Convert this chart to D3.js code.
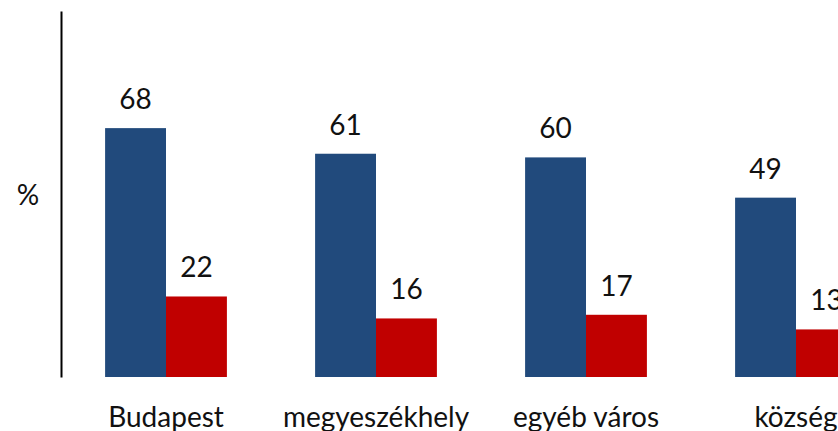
<!DOCTYPE html>
<html>
<head>
<meta charset="utf-8">
<script src="https://cdn.jsdelivr.net/npm/d3@7"></script>
<style>
  html, body { margin: 0; padding: 0; background: #fff; overflow: hidden; }
  svg { display: block; }
  text { font-family: Lato, "Open Sans", sans-serif; fill: #111; }
</style>
</head>
<body>
<svg id="chart" width="838" height="431"></svg>
<script>
// Settlement types and the two series shown for each
const categories = ["Budapest", "megyeszékhely", "egyéb város", "község"];
const seriesA = [68, 61, 60, 49];
const seriesB = [22, 16, 17, 13];
const seriesColors = ["#214a7c", "#c00000"];
const yDomain = [0, 100];

const svg = d3.select("#chart");
const plotLeft = 61, plotTop = 11, plotBottom = 377;
const step = 210;
const fontSize = 28;

const x = d3.scaleBand()
  .domain(categories)
  .range([plotLeft, plotLeft + step * categories.length])
  .paddingInner(0.42)
  .paddingOuter(0.21);

const inner = d3.scaleBand()
  .domain([0, 1])
  .range([0, x.bandwidth()]);

const y = d3.scaleLinear().domain(yDomain).range([plotBottom, plotTop]);

const rows = categories.map((c, i) => ({ c, vals: [seriesA[i], seriesB[i]] }));

const g = svg.selectAll("g.cat").data(rows).join("g")
  .attr("class", "cat")
  .attr("transform", d => `translate(${x(d.c)},0)`);

g.selectAll("rect").data(d => d.vals.map((v, k) => ({ v, k }))).join("rect")
  .attr("x", d => inner(d.k))
  .attr("y", d => y(d.v))
  .attr("width", inner.bandwidth())
  .attr("height", d => y(0) - y(d.v))
  .attr("fill", d => seriesColors[d.k]);

g.selectAll("text.val").data(d => d.vals.map((v, k) => ({ v, k }))).join("text")
  .attr("class", "val")
  .attr("x", d => inner(d.k) + inner.bandwidth() / 2)
  .attr("y", d => y(d.v) - 19)
  .attr("text-anchor", "middle")
  .attr("font-size", fontSize)
  .text(d => d.v);

// Vertical value axis, drawn as a plain line without ticks
const axis = d3.axisLeft(y).tickValues([]).tickSizeOuter(0);
svg.append("g")
  .attr("transform", `translate(${plotLeft},0)`)
  .call(axis)
  .call(s => s.select(".domain").attr("stroke", "#000").attr("stroke-width", 2));

// Category labels
svg.selectAll("text.catlabel").data(categories).join("text")
  .attr("class", "catlabel")
  .attr("x", d => x(d) + x.bandwidth() / 2)
  .attr("y", 427)
  .attr("text-anchor", "middle")
  .attr("font-size", fontSize)
  .text(d => d);

svg.append("text")
  .attr("x", 28)
  .attr("y", 205)
  .attr("text-anchor", "middle")
  .attr("font-size", fontSize)
  .text("%");
</script>
</body>
</html>
